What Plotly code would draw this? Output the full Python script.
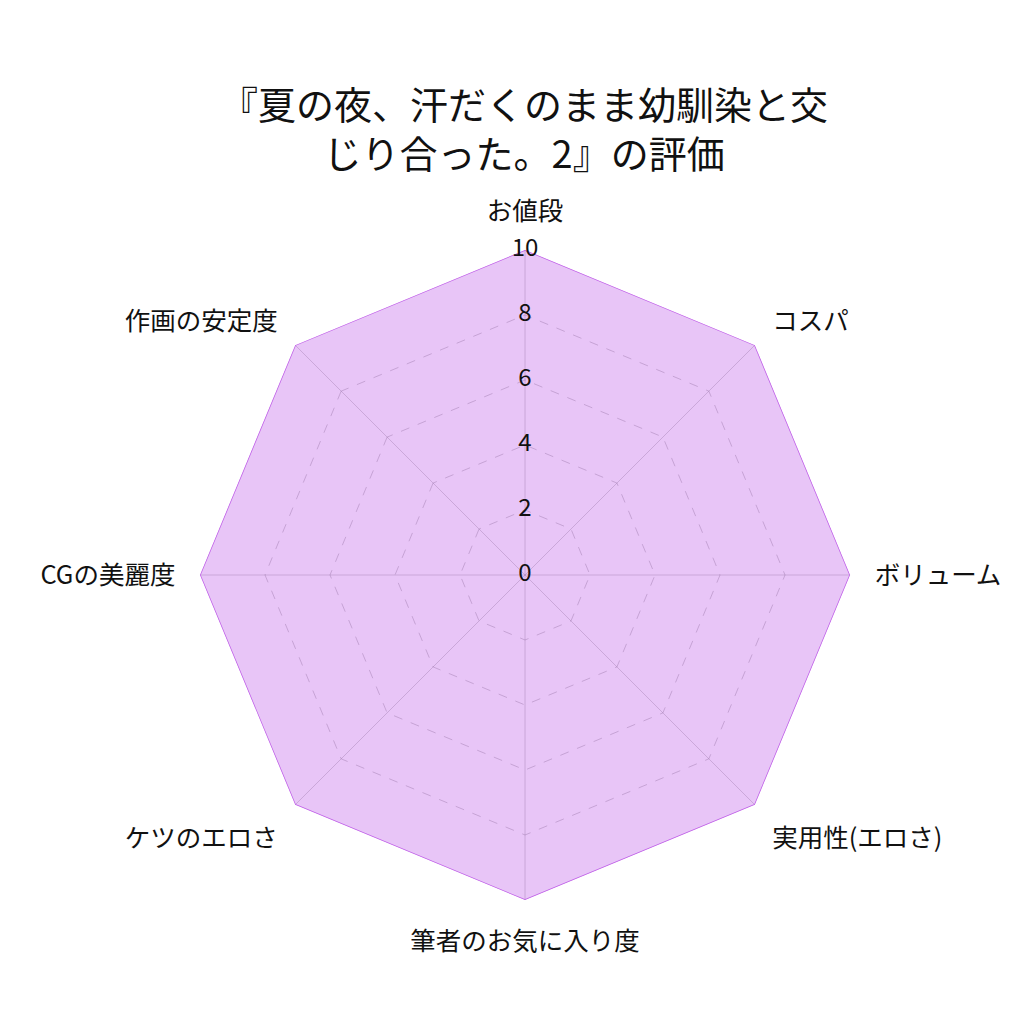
import plotly.graph_objects as go

categories = ["お値段", "コスパ", "ボリューム", "実用性(エロさ)", "筆者のお気に入り度",
              "ケツのエロさ", "CGの美麗度", "作画の安定度"]
values = [10, 10, 10, 10, 10, 10, 10, 10]
tick_vals = [0, 2, 4, 6, 8, 10]
tick_text = ["0", "2", "4", "6", "8", "10"]

FONT = "Noto Sans CJK JP"
DOM_X = [0.1875, 0.8223]
DOM_Y = [0.1289, 0.7637]

fig = go.Figure()
fig.add_trace(go.Scatterpolar(
    r=values + values[:1],
    theta=categories + categories[:1],
    mode="lines",
    fill="toself",
    fillcolor="rgba(192,97,232,0.37)",
    line=dict(color="#c061e8", width=1.5),
    hoverinfo="skip",
    subplot="polar",
))
# radial tick labels, centred on the first (vertical) spoke, drawn on an
# invisible overlay polar subplot with the same radial scale (above the fill)
fig.add_trace(go.Scatterpolar(
    r=tick_vals,
    theta=[0] * len(tick_vals),
    mode="text",
    text=tick_text,
    textposition="middle center",
    textfont=dict(family=FONT, size=24, color="#111111"),
    cliponaxis=False,
    hoverinfo="skip",
    subplot="polar2",
))

fig.update_layout(
    width=1024, height=1024,
    paper_bgcolor="white",
    plot_bgcolor="white",
    showlegend=False,
    margin=dict(l=0, r=0, t=0, b=0),
    font=dict(family=FONT, color="#111111"),
    title=dict(
        text="『夏の夜、汗だくのまま幼馴染と交<br>じり合った。2』の評価",
        x=0.504, xanchor="center", y=0.892, yanchor="middle",
        font=dict(family=FONT, size=38, color="#111111"),
    ),
    polar=dict(
        domain=dict(x=DOM_X, y=DOM_Y),
        gridshape="linear",
        bgcolor="rgba(0,0,0,0)",
        angularaxis=dict(
            rotation=90, direction="clockwise",
            showline=False,
            gridcolor="rgba(120,120,120,0.35)", gridwidth=1,
            tickfont=dict(family=FONT, size=25.5, color="#111111"),
            ticks="outside", ticklen=19, tickcolor="rgba(0,0,0,0)",
        ),
        radialaxis=dict(
            range=[0, 10], tickvals=tick_vals,
            angle=90, showticklabels=False,
            showline=False, ticks="",
            gridcolor="rgba(120,120,120,0.4)", griddash="dash", gridwidth=1,
        ),
    ),
    polar2=dict(
        domain=dict(x=DOM_X, y=DOM_Y),
        gridshape="circular",
        bgcolor="rgba(0,0,0,0)",
        angularaxis=dict(
            rotation=90, direction="clockwise", visible=False,
            showgrid=False, showline=False, showticklabels=False, ticks="",
        ),
        radialaxis=dict(
            range=[0, 10], visible=False,
            showgrid=False, showline=False, showticklabels=False, ticks="",
        ),
    ),
)

fig.write_html("out.html")
